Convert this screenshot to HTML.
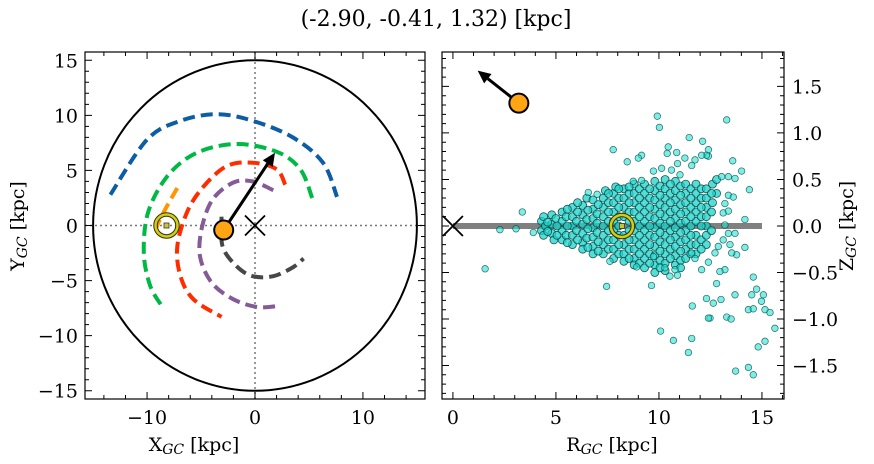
<!DOCTYPE html>
<html><head><meta charset="utf-8">
<style>
html,body{margin:0;padding:0;background:#fff;}
svg{display:block;font-family:"DejaVu Serif","Liberation Serif",serif;}
</style></head>
<body>
<svg id="fig" width="874" height="464" viewBox="0 0 874 464" xmlns="http://www.w3.org/2000/svg">
<text x="436" y="26" font-size="22" text-anchor="middle">(-2.90, -0.41, 1.32) [kpc]</text>
<text x="194" y="451" font-size="19" text-anchor="middle">X<tspan font-size="14" font-style="italic" dy="3">GC</tspan><tspan dy="-3"> [kpc]</tspan></text>
<text x="0" y="0" font-size="19" text-anchor="middle" transform="translate(24,226) rotate(-90)">Y<tspan font-size="14" font-style="italic" dy="3">GC</tspan><tspan dy="-3"> [kpc]</tspan></text>
<text x="612" y="451" font-size="19" text-anchor="middle">R<tspan font-size="14" font-style="italic" dy="3">GC</tspan><tspan dy="-3"> [kpc]</tspan></text>
<text x="0" y="0" font-size="19" text-anchor="middle" transform="translate(853,226) rotate(-90)">Z<tspan font-size="14" font-style="italic" dy="3">GC</tspan><tspan dy="-3"> [kpc]</tspan></text>
<g id="left"></g>
<g id="right"></g>
</svg>
<script>
// ---- data ----
const clusterXY = [-2.90, -0.41];
const arrowXY = [1.85, 6.6];
const sunXY = [-8.2, 0];
const clusterRZ = [3.2, 1.32];
const arrowRZ = [1.2, 1.67];
const sunRZ = [8.2, 0];
const orbitBlue = [[-13.4,2.8],[-10,7.8],[-6.9,9.5],[-3.5,10.1],[-0.2,9.5],[3.5,8.0],[6.3,5.7],[7.6,2.6]];
const orbitGreen = [[5.3,2.5],[4.2,5.1],[2.0,6.7],[-1.7,7.4],[-5.4,6.6],[-8.1,4.5],[-9.9,1.2],[-10.3,-2.5],[-9.7,-5.5],[-8.5,-7.5]];
const orbitRed = [[2.8,3.7],[2.0,5.1],[-0.2,5.7],[-2.6,5.4],[-4.8,3.5],[-6.3,1.2],[-7.2,-1.9],[-6.9,-4.6],[-5.7,-6.7],[-3.1,-8.3]];
const orbitPurple = [[1.7,3.2],[-0.2,4.0],[-2.0,3.9],[-3.9,2.4],[-4.9,-0.1],[-5.1,-2.8],[-4.0,-5.2],[-2.0,-6.7],[0.2,-7.4],[2.2,-7.3]];
const orbitGray = [[-3.1,0.8],[-3.0,-1.9],[-1.7,-3.7],[-0.2,-4.6],[1.7,-4.6],[3.5,-3.8],[4.5,-3.0]];
const orbitOrange = [[-7.2,3.4],[-8.3,1.5],[-9.1,-0.1],[-9.2,-1.0]];
const xTicksL = [-10,0,10];
const yTicksL = [-15,-10,-5,0,5,10,15];
const xTicksR = [0,5,10,15];
const zTicksR = [-1.5,-1.0,-0.5,0.0,0.5,1.0,1.5];
const zLabelsR = ["\u22121.5","\u22121.0","\u22120.5","0.0","0.5","1.0","1.5"];
const starsOutlier = [[1.56,-0.46],[2.28,-0.04],[3.06,-0.03],[3.37,0.15],[3.9,-0.07],[7.46,-0.65],[7.78,0.82],[8.46,0.69],[9.64,-0.64],[9.92,1.18],[10.02,1.06],[10.08,-1.13],[10.7,-1.23],[11.43,-1.36],[11.59,-1.21],[11.62,-0.86],[11.47,0.95],[12.12,0.91],[13.29,1.14],[13.58,0.70],[14.01,0.59],[14.39,0.39],[14.17,0.07],[13.69,-0.08],[14.17,-0.23],[13.77,-0.31],[14.58,-0.55],[14.74,-0.68],[14.5,-0.74],[15.07,-0.74],[14.98,-0.81],[15.15,-0.9],[14.34,-0.9],[14.58,-0.89],[15.39,-0.93],[15.63,-1.1],[14.82,-1.3],[15.15,-1.24],[13.72,-1.56],[14.34,-1.52],[14.58,-1.6],[13.29,-0.98],[13.5,-1.0],[12.48,-0.99],[12.4,-0.99],[12.31,-0.78],[12.64,-0.83],[13.01,-0.79],[12.8,-0.62],[13.69,-0.74],[13.2,-0.47],[12.96,-0.49],[12.07,-0.47],[12.4,-0.39],[11.75,-0.35],[11.59,-0.29],[10.53,-0.54],[10.9,-0.53],[10.29,-0.45],[10.78,-0.47],[9.73,-0.33],[8.92,-0.44],[7.62,-0.38],[10.45,0.85],[10.86,0.79],[10.4,0.78],[9.16,0.76],[9.0,0.73],[11.26,0.73],[11.75,0.71],[11.59,0.65],[10.9,0.67],[10.13,0.62],[10.61,0.6],[11.02,0.55],[9.73,0.59],[12.4,0.75],[12.4,0.82],[12.31,0.76],[12.07,0.76],[13.04,0.53],[13.37,0.53],[13.69,0.51],[13.37,0.33],[13.61,0.31],[13.2,0.24],[13.12,0.14],[13.37,0.16],[13.2,0.01],[13.12,-0.15],[13.45,-0.2],[12.88,-0.22],[12.72,-0.29],[13.37,-0.08],[13.53,-0.29],[6.57,0.36],[7.0,0.34],[8.75,0.48],[9.16,0.49]];
const starsCore = [[4.3,0.05],[4.3,-0.05],[4.4,0.1],[4.4,-0.1],[4.5,0.0],[4.8,0.12],[4.8,0.02],[4.8,-0.08],[4.9,-0.15],[5.0,0.08],[5.3,0.15],[5.3,0.05],[5.3,-0.05],[5.3,-0.15],[5.5,0.1],[5.5,-0.1],[5.8,0.2],[5.8,0.1],[5.8,0.0],[5.8,-0.1],[5.8,-0.2],[6.0,0.05],[6.0,-0.05],[6.3,0.22],[6.3,0.12],[6.3,0.02],[6.3,-0.08],[6.3,-0.18],[6.3,-0.25],[6.5,0.3],[6.5,0.07],[6.5,-0.13],[6.8,0.28],[6.8,0.18],[6.8,0.08],[6.8,-0.02],[6.8,-0.12],[6.8,-0.22],[6.8,-0.3],[7.0,0.13],[7.0,-0.07],[7.0,0.03],[7.3,0.3],[7.3,0.2],[7.3,0.1],[7.3,0.0],[7.3,-0.1],[7.3,-0.2],[7.3,-0.3],[7.4,0.38],[7.55,0.25],[7.55,0.05],[7.55,-0.15],[7.55,-0.25],[7.8,0.35],[7.8,0.25],[7.8,0.15],[7.8,0.05],[7.8,-0.05],[7.8,-0.15],[7.8,-0.25],[7.8,-0.35],[7.9,0.42],[8.05,0.3],[8.05,0.1],[8.05,-0.1],[8.05,-0.3],[8.3,0.4],[8.3,0.3],[8.3,0.2],[8.3,0.1],[8.3,-0.1],[8.3,-0.2],[8.3,-0.3],[8.3,-0.38],[8.55,0.35],[8.55,0.15],[8.55,-0.05],[8.55,-0.25],[8.55,0.05],[8.8,0.45],[8.8,0.35],[8.8,0.25],[8.8,0.15],[8.8,0.05],[8.8,-0.05],[8.8,-0.15],[8.8,-0.25],[8.8,-0.35],[8.8,-0.42],[9.05,0.4],[9.05,0.2],[9.05,0.0],[9.05,-0.2],[9.05,-0.4],[9.3,0.45],[9.3,0.35],[9.3,0.25],[9.3,0.15],[9.3,0.05],[9.3,-0.05],[9.3,-0.15],[9.3,-0.25],[9.3,-0.35],[9.3,-0.45],[9.55,0.3],[9.55,0.1],[9.55,-0.1],[9.55,-0.3],[9.8,0.48],[9.8,0.38],[9.8,0.28],[9.8,0.18],[9.8,0.08],[9.8,-0.02],[9.8,-0.12],[9.8,-0.22],[9.8,-0.32],[9.8,-0.42],[9.8,-0.5],[10.05,0.43],[10.05,0.23],[10.05,0.03],[10.05,-0.17],[10.05,-0.37],[10.3,0.5],[10.3,0.4],[10.3,0.3],[10.3,0.2],[10.3,0.1],[10.3,0.0],[10.3,-0.1],[10.3,-0.2],[10.3,-0.3],[10.3,-0.4],[10.3,-0.48],[10.55,0.35],[10.55,0.15],[10.55,-0.05],[10.55,-0.25],[10.8,0.48],[10.8,0.38],[10.8,0.28],[10.8,0.18],[10.8,0.08],[10.8,-0.02],[10.8,-0.12],[10.8,-0.22],[10.8,-0.32],[10.8,-0.42],[11.05,0.43],[11.05,0.23],[11.05,0.03],[11.05,-0.17],[11.05,-0.37],[11.3,0.45],[11.3,0.35],[11.3,0.25],[11.3,0.15],[11.3,0.05],[11.3,-0.05],[11.3,-0.15],[11.3,-0.25],[11.3,-0.35],[11.55,0.4],[11.55,0.2],[11.55,0.0],[11.55,-0.2],[11.8,0.45],[11.8,0.35],[11.8,0.25],[11.8,0.15],[11.8,0.05],[11.8,-0.1],[11.8,-0.2],[11.8,-0.3],[12.05,0.4],[12.05,0.3],[12.05,0.1],[12.05,-0.15],[12.3,0.4],[12.3,0.3],[12.3,0.2],[12.3,0.1],[12.3,0.0],[12.3,-0.1],[12.3,-0.2],[12.6,0.45],[12.6,0.25],[12.8,0.5],[12.8,0.35]];
const starsFill = [[4.6,0.04],[4.6,-0.06],[5.05,0.0],[5.05,-0.1],[5.55,0.0],[5.55,0.18],[5.55,-0.18],[6.05,0.15],[6.05,-0.15],[6.05,0.25],[6.55,0.17],[6.55,-0.03],[6.55,-0.23],[7.05,0.23],[7.05,-0.17],[7.05,-0.27],[7.55,0.15],[7.55,-0.05],[7.55,0.35],[8.05,0.2],[8.05,0.0],[8.05,-0.2],[8.05,0.4],[8.55,0.25],[8.55,-0.15],[8.55,-0.35],[8.55,0.42],[9.05,0.3],[9.05,0.1],[9.05,-0.1],[9.05,-0.3],[9.55,0.4],[9.55,0.2],[9.55,0.0],[9.55,-0.2],[9.55,-0.4],[10.05,0.33],[10.05,0.13],[10.05,-0.07],[10.05,-0.27],[10.05,-0.45],[10.55,0.45],[10.55,0.25],[10.55,0.05],[10.55,-0.15],[10.55,-0.35],[11.05,0.33],[11.05,0.13],[11.05,-0.07],[11.05,-0.27],[11.05,-0.45],[11.55,0.3],[11.55,0.1],[11.55,-0.1],[11.55,-0.3],[12.05,0.2],[12.05,0.0],[12.05,-0.25],[12.55,0.35],[12.55,0.15],[12.55,-0.05]];

// ---- axes ----
const L = {x0:85,x1:425,y0:52,y1:399,xmin:-15.75,xmax:15.75,ymin:-15.75,ymax:15.75};
const R = {x0:442,x1:784,y0:52,y1:399,xmin:-0.53,xmax:16.07,ymin:-1.86,ymax:1.87};
function sx(a,v){return a.x0+(v-a.xmin)/(a.xmax-a.xmin)*(a.x1-a.x0);}
function sy(a,v){return a.y1-(v-a.ymin)/(a.ymax-a.ymin)*(a.y1-a.y0);}
const NS="http://www.w3.org/2000/svg";
function mk(parent,tag,attrs){const e=document.createElementNS(NS,tag);for(const k in attrs)e.setAttribute(k,attrs[k]);parent.appendChild(e);return e;}

const gL=document.getElementById('left'), gR=document.getElementById('right');

function frame(g,a){
  const r=mk(g,'rect',{x:a.x0,y:a.y0,width:a.x1-a.x0,height:a.y1-a.y0,fill:'none',stroke:'#000','stroke-width':1.2});
  
  
}
function ticks(g,a,xmaj,xmin,ymaj,ymin){
  let d='';
  const tx=(step,len)=>{for(let v=Math.ceil(a.xmin/step)*step;v<=a.xmax+1e-9;v+=step){const x=sx(a,v);d+=`M${x},${a.y1}v${-len}M${x},${a.y0}v${len}`;}};
  const ty=(step,len)=>{for(let v=Math.ceil(a.ymin/step-1e-9)*step;v<=a.ymax+1e-9;v+=step){const y=sy(a,v);d+=`M${a.x0},${y}h${len}M${a.x1},${y}h${-len}`;}};
  tx(xmaj,7);tx(xmin,4);ty(ymaj,7);ty(ymin,4);
  const p=mk(g,'path',{d:d,stroke:'#000','stroke-width':1,fill:'none'});
  
  
}
function poly(g,a,pts,color,name){
  const P=pts.map(p=>[sx(a,p[0]),sy(a,p[1])]);
  let d='M'+P[0][0].toFixed(1)+','+P[0][1].toFixed(1);
  for(let i=0;i<P.length-1;i++){
    const p0=P[Math.max(0,i-1)],p1=P[i],p2=P[i+1],p3=P[Math.min(P.length-1,i+2)];
    const c1=[p1[0]+(p2[0]-p0[0])/6,p1[1]+(p2[1]-p0[1])/6];
    const c2=[p2[0]-(p3[0]-p1[0])/6,p2[1]-(p3[1]-p1[1])/6];
    d+=`C${c1[0].toFixed(1)},${c1[1].toFixed(1)} ${c2[0].toFixed(1)},${c2[1].toFixed(1)} ${p2[0].toFixed(1)},${p2[1].toFixed(1)}`;
  }
  const p=mk(g,'path',{d:d,fill:'none',stroke:color,'stroke-width':4,'stroke-dasharray':'12,6'});
  
  
}
function label(g,x,y,txt,anchor,name){
  const t=mk(g,'text',{x:x,y:y,'font-size':19,'text-anchor':anchor});
  t.textContent=txt;
  
  
}
function cross(g,x,y,s,name){
  const p=mk(g,'path',{d:`M${x-s},${y-s}L${x+s},${y+s}M${x-s},${y+s}L${x+s},${y-s}`,stroke:'#000','stroke-width':1.8});
  
  
}
function arrow(g,x0,y0,x1,y1,name){
  const ang=Math.atan2(y1-y0,x1-x0), hl=13, hw=6;
  const bx=x1-hl*Math.cos(ang), by=y1-hl*Math.sin(ang);
  const gg=mk(g,'g',{});
  
  
  mk(gg,'line',{x1:x0,y1:y0,x2:bx,y2:by,stroke:'#000','stroke-width':3});
  mk(gg,'polygon',{points:`${x1},${y1} ${bx-hw*Math.sin(ang)},${by+hw*Math.cos(ang)} ${bx+hw*Math.sin(ang)},${by-hw*Math.cos(ang)}`,fill:'#000'});
}
function sun(g,x,y,name){
  const gg=mk(g,'g',{});
  
  
  mk(gg,'circle',{cx:x,cy:y,r:11,fill:'none',stroke:'#333300','stroke-width':4.5});
  mk(gg,'circle',{cx:x,cy:y,r:11,fill:'none',stroke:'#d2cc1a','stroke-width':2.5});
  mk(gg,'rect',{x:x-2.5,y:y-2.5,width:5,height:5,fill:'#c8c830',stroke:'#333','stroke-width':0.8});
}
function cluster(g,x,y,name){
  const c=mk(g,'circle',{cx:x,cy:y,r:9.5,fill:'#ffa514',stroke:'#000','stroke-width':2});
  
  
}

// ---- left panel ----
const zg=mk(gL,'path',{d:`M${L.x0},${sy(L,0)}H${L.x1}M${sx(L,0)},${L.y0}V${L.y1}`,stroke:'#777','stroke-width':1.5,'stroke-dasharray':'2,3'});


const circ=mk(gL,'ellipse',{cx:sx(L,0),cy:sy(L,0),rx:sx(L,15)-sx(L,0),ry:sy(L,0)-sy(L,15),fill:'none',stroke:'#000','stroke-width':2});


poly(gL,L,orbitBlue,'#0c5da5','orbit-blue');
poly(gL,L,orbitGreen,'#00b945','orbit-green');
poly(gL,L,orbitRed,'#ff2c00','orbit-red');
poly(gL,L,orbitPurple,'#845b97','orbit-purple');
poly(gL,L,orbitGray,'#474747','orbit-gray');
poly(gL,L,orbitOrange,'#ff9500','orbit-orange');
sun(gL,sx(L,sunXY[0]),sy(L,sunXY[1]),'sun-marker-xy');
cross(gL,sx(L,0),sy(L,0),10,'galactic-center-xy');
arrow(gL,sx(L,clusterXY[0]),sy(L,clusterXY[1]),sx(L,arrowXY[0]),sy(L,arrowXY[1]),'velocity-arrow-xy');
cluster(gL,sx(L,clusterXY[0]),sy(L,clusterXY[1]),'cluster-marker-xy');
frame(gL,L);
ticks(gL,L,10,2,5,1);
xTicksL.forEach(v=>label(gL,sx(L,v),424,v<0?'\u2212'+(-v):''+v,'middle','x-tick-label'));
yTicksL.forEach(v=>label(gL,78,sy(L,v)+7,v<0?'\u2212'+(-v):''+v,'end','y-tick-label'));

// ---- right panel ----
const band=mk(gR,'line',{x1:sx(R,0),y1:sy(R,0),x2:sx(R,15),y2:sy(R,0),stroke:'#808080','stroke-width':6});


const sg=mk(gR,'g',{});


starsCore.concat(starsFill).forEach(p=>{
  const c=mk(sg,'circle',{cx:sx(R,p[0]).toFixed(1),cy:sy(R,p[1]).toFixed(1),r:4,fill:'rgba(30,210,200,0.75)',stroke:'rgba(0,60,60,0.85)','stroke-width':0.8});
  
  
});
starsOutlier.forEach(p=>{
  const c=mk(sg,'circle',{cx:sx(R,p[0]).toFixed(1),cy:sy(R,p[1]).toFixed(1),r:3.3,fill:'rgba(40,225,210,0.6)',stroke:'rgba(0,70,70,0.8)','stroke-width':0.7});
  
  
});
sun(gR,sx(R,sunRZ[0]),sy(R,sunRZ[1]),'sun-marker-rz');
cross(gR,sx(R,0),sy(R,0),10,'galactic-center-rz');
arrow(gR,sx(R,clusterRZ[0]),sy(R,clusterRZ[1]),sx(R,arrowRZ[0]),sy(R,arrowRZ[1]),'velocity-arrow-rz');
cluster(gR,sx(R,clusterRZ[0]),sy(R,clusterRZ[1]),'cluster-marker-rz');
frame(gR,R);
ticks(gR,R,5,1,0.5,0.1);
xTicksR.forEach(v=>label(gR,sx(R,v),424,''+v,'middle','x-tick-label'));
zTicksR.forEach((v,i)=>label(gR,792,sy(R,v)+7,zLabelsR[i],'start','z-tick-label'));
</script>
</body></html>
